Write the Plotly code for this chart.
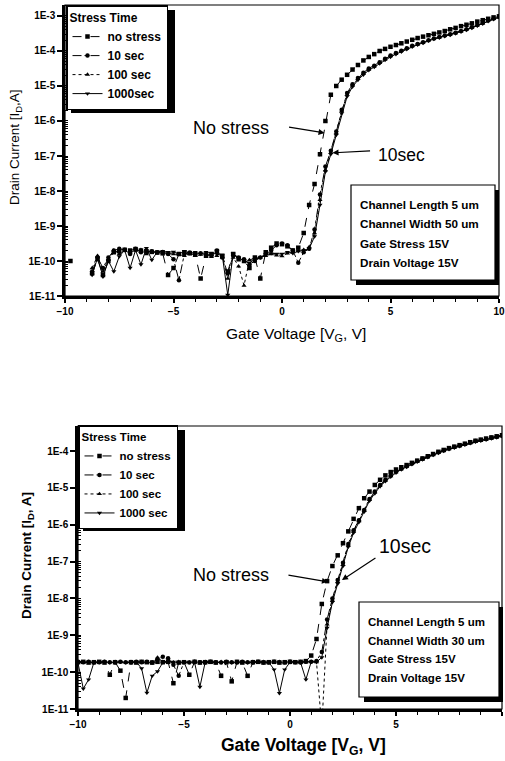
import plotly.graph_objects as go

W, H = 505, 761
FONT = "Liberation Sans, Arial, sans-serif"

# ---------------- data ----------------
gate_voltage = [
    -10.0, -9.75, -9.5, -9.25, -9.0, -8.75, -8.5, -8.25,
    -8.0, -7.75, -7.5, -7.25, -7.0, -6.75, -6.5, -6.25,
    -6.0, -5.75, -5.5, -5.25, -5.0, -4.75, -4.5, -4.25,
    -4.0, -3.75, -3.5, -3.25, -3.0, -2.75, -2.5, -2.25,
    -2.0, -1.75, -1.5, -1.25, -1.0, -0.75, -0.5, -0.25,
    0.0, 0.25, 0.5, 0.75, 1.0, 1.25, 1.5, 1.75,
    2.0, 2.25, 2.5, 2.75, 3.0, 3.25, 3.5, 3.75,
    4.0, 4.25, 4.5, 4.75, 5.0, 5.25, 5.5, 5.75,
    6.0, 6.25, 6.5, 6.75, 7.0, 7.25, 7.5, 7.75,
    8.0, 8.25, 8.5, 8.75, 9.0, 9.25, 9.5, 9.75,
    10.0,
]

# Top panel (Channel Width 50 um), log10 of drain current [A]
top_no_stress_log10 = [
    None, -10.0, None, None, None, -10.35, -9.95, -10.4,
    -10.0, -9.75, -9.72, -9.68, -9.7, -9.66, -9.7, -9.72,
    -9.74, -9.76, -9.78, -10.4, -10.2, -9.8, -9.75, -9.78,
    -9.82, -10.5, -9.85, -9.8, -9.72, -9.85, -10.3, -9.8,
    -9.95, -10.0, -10.2, -9.9, -10.5, -9.75, -9.62, -9.5,
    -9.52, -9.58, -9.7, -9.62, -9.2, -8.4, -7.8, -6.95,
    -6.0, -5.25, -5.0, -4.82, -4.68, -4.53, -4.4, -4.27,
    -4.17, -4.09, -4.0, -3.94, -3.88, -3.83, -3.78, -3.73,
    -3.68, -3.63, -3.59, -3.55, -3.51, -3.47, -3.43, -3.38,
    -3.34, -3.29, -3.25, -3.21, -3.16, -3.12, -3.08, -3.04,
    -3.01,
]
top_10sec_log10 = [
    None, None, None, None, None, -10.3, -9.9, -10.2,
    -9.9, -9.7, -9.65, -9.68, -9.8, -9.65, -9.75, -9.7,
    -9.72, -9.75, -9.74, -9.8, -9.95, -10.55, -9.8, -9.76,
    -9.8, -9.78, -9.82, -9.85, -9.7, -9.9, -10.35, -9.85,
    -9.9, -9.95, -10.1, -10.0, -9.9, -9.8, -9.7, -9.55,
    -9.5, -9.55, -9.7, -10.05, -9.75, -9.65, -9.1, -8.1,
    -7.3, -6.85, -6.3, -5.68, -5.2, -4.95, -4.77, -4.62,
    -4.5, -4.42, -4.32, -4.22, -4.13, -4.06, -3.99, -3.92,
    -3.85, -3.8, -3.75, -3.69, -3.64, -3.6, -3.56, -3.52,
    -3.48, -3.43, -3.38, -3.32, -3.26, -3.2, -3.13, -3.07,
    -3.02,
]
top_100sec_log10 = [
    None, None, None, None, None, -10.2, -9.85, -10.3,
    -9.95, -9.7, -9.8, -9.7, -9.75, -9.7, -9.68, -9.8,
    -9.73, -9.75, -9.76, -9.78, -9.8, -9.82, -9.85, -9.78,
    -9.85, -9.82, -9.8, -9.88, -9.85, -9.9, -10.5, -9.9,
    -10.15, -10.7, -9.97, -9.92, -9.9, -9.85, -9.8, -9.84,
    -9.86, -9.78, -9.75, -9.72, -9.68, -9.6, -9.2, -8.25,
    -7.4, -6.9, -6.35, -5.72, -5.25, -4.98, -4.8, -4.65,
    -4.53, -4.44, -4.34, -4.24, -4.15, -4.08, -4.0, -3.93,
    -3.86, -3.81, -3.76, -3.7, -3.65, -3.61, -3.57, -3.53,
    -3.49, -3.44, -3.39, -3.33, -3.27, -3.21, -3.14, -3.08,
    -3.03,
]
top_1000sec_log10 = [
    None, None, None, None, None, -10.4, -9.91, -10.45,
    -10.0, -10.3, -9.87, -9.69, -10.2, -9.69, -10.1, -9.63,
    -9.97, -9.74, -9.72, -9.75, -9.74, -9.8, -9.72, -9.78,
    -9.75, -9.8, -9.75, -9.78, -9.8, -9.85, -10.97, -9.8,
    -9.9, -10.0, -10.05, -9.95, -9.9, -9.82, -9.78, -9.8,
    -9.8, -9.75, -9.78, -9.72, -9.7, -9.65, -9.3, -8.4,
    -7.45, -6.95, -6.4, -5.78, -5.3, -5.02, -4.83, -4.68,
    -4.55, -4.46, -4.36, -4.26, -4.17, -4.09, -4.02, -3.95,
    -3.88, -3.82, -3.77, -3.71, -3.66, -3.62, -3.58, -3.54,
    -3.5, -3.45, -3.4, -3.34, -3.28, -3.22, -3.15, -3.09,
    -3.03,
]

# Bottom panel (Channel Width 30 um), log10 of drain current [A]
bot_no_stress_log10 = [
    -9.73, -9.72, -9.74, -9.73, -9.72, -9.74, -10.07, -9.73,
    -9.96, -10.7, -9.73, -9.74, -9.72, -9.73, -9.74, -9.72,
    -9.73, -9.72, -10.3, -9.74, -9.73, -10.07, -9.72, -9.74,
    -9.73, -9.72, -9.74, -10.1, -9.73, -10.25, -9.72, -9.74,
    -10.1, -9.73, -9.72, -9.74, -9.73, -9.72, -9.74, -9.73,
    -9.72, -9.73, -9.72, -9.7, -9.55, -9.1, -8.15, -7.53,
    -7.12, -6.83, -6.5, -6.18, -5.84, -5.55, -5.28, -5.1,
    -4.92, -4.78, -4.66, -4.57, -4.5, -4.44, -4.38, -4.32,
    -4.26, -4.2, -4.14, -4.08, -4.02, -3.97, -3.92, -3.88,
    -3.84, -3.8, -3.76, -3.72, -3.69, -3.66, -3.63, -3.6,
    -3.57,
]
bot_10sec_log10 = [
    -9.72, -9.73, -9.72, -9.74, -9.73, -9.72, -9.73, -9.74,
    -9.72, -9.73, -9.74, -9.72, -9.73, -9.72, -9.74, -9.65,
    -9.58, -9.62, -9.8, -10.1, -9.73, -9.74, -9.72, -9.73,
    -9.74, -9.72, -9.73, -9.74, -9.72, -9.73, -9.74, -9.72,
    -9.73, -9.74, -9.72, -9.73, -9.74, -9.72, -9.73, -9.74,
    -9.72, -9.73, -9.74, -9.72, -9.72, -9.7, -9.45, -8.57,
    -8.0, -7.5, -7.03, -6.52, -6.15, -5.88, -5.6, -5.3,
    -5.1, -4.92, -4.78, -4.66, -4.56, -4.48, -4.41, -4.34,
    -4.27, -4.21, -4.15, -4.09, -4.03, -3.98, -3.93, -3.89,
    -3.85, -3.81, -3.77, -3.73, -3.7, -3.67, -3.64, -3.61,
    -3.58,
]
bot_100sec_log10 = [
    -9.74, -9.73, -9.72, -9.73, -9.74, -9.72, -9.73, -9.72,
    -9.73, -9.74, -9.72, -9.73, -9.72, -9.74, -9.73, -9.6,
    -9.72, -9.7, -9.73, -9.72, -9.74, -9.73, -9.72, -9.73,
    -9.72, -9.74, -9.73, -9.72, -9.73, -9.74, -9.72, -9.73,
    -9.74, -9.72, -9.73, -9.72, -9.74, -9.73, -9.72, -9.73,
    -9.72, -9.73, -9.72, -9.73, -9.72, -9.73, -11.5, -8.7,
    -8.05, -7.55, -7.08, -6.56, -6.18, -5.9, -5.62, -5.32,
    -5.12, -4.94, -4.8, -4.68, -4.57, -4.49, -4.42, -4.35,
    -4.28, -4.22, -4.16, -4.1, -4.04, -3.99, -3.94, -3.9,
    -3.86, -3.82, -3.78, -3.74, -3.71, -3.68, -3.65, -3.62,
    -3.59,
]
bot_1000sec_log10 = [
    -9.75, -10.45, -10.2, -9.74, -9.73, -9.72, -9.74, -9.73,
    -9.72, -9.74, -9.73, -9.72, -9.9, -10.56, -10.1, -9.98,
    -9.74, -9.73, -9.72, -9.74, -9.73, -9.72, -9.74, -10.4,
    -9.73, -9.72, -9.74, -9.73, -9.72, -9.74, -9.73, -9.72,
    -9.74, -9.73, -9.72, -9.74, -9.73, -9.93, -10.57, -9.93,
    -9.73, -9.72, -9.74, -10.2, -9.72, -9.73, -9.6, -8.8,
    -8.1, -7.6, -7.12, -6.6, -6.22, -5.93, -5.65, -5.35,
    -5.15, -4.96, -4.82, -4.7, -4.59, -4.5, -4.43, -4.36,
    -4.29, -4.23, -4.17, -4.11, -4.05, -4.0, -3.95, -3.91,
    -3.87, -3.83, -3.79, -3.75, -3.72, -3.69, -3.66, -3.63,
    -3.6,
]

top_names = ["no stress", "10 sec", "100 sec", "1000sec"]
bot_names = ["no stress", "10 sec", "100 sec", "1000 sec"]
top_series = [top_no_stress_log10, top_10sec_log10, top_100sec_log10, top_1000sec_log10]
bot_series = [bot_no_stress_log10, bot_10sec_log10, bot_100sec_log10, bot_1000sec_log10]

top_yticks = [1e-11, 1e-10, 1e-9, 1e-8, 1e-7, 1e-6, 1e-5, 1e-4, 1e-3]
top_yticktext = ["1E-11", "1E-10", "1E-9", "1E-8", "1E-7", "1E-6", "1E-5", "1E-4", "1E-3"]
bot_yticks = [1e-11, 1e-10, 1e-9, 1e-8, 1e-7, 1e-6, 1e-5, 1e-4]
bot_yticktext = ["1E-11", "1E-10", "1E-9", "1E-8", "1E-7", "1E-6", "1E-5", "1E-4"]
x_ticks = [-10, -5, 0, 5, 10]

top_info = ["Channel Length 5 um", "Channel Width 50 um", "Gate Stress 15V", "Drain Voltage 15V"]
bot_info = ["Channel Length 5 um", "Channel Width 30 um", "Gate Stress 15V", "Drain Voltage 15V"]

symbols = ["square", "circle", "triangle-up", "triangle-down"]
dashes = ["dash", "dashdot", "dot", "solid"]


def to_amps(vals):
    return [None if v is None else 10 ** v for v in vals]


def px(x):
    return x / W


def py(y):
    return 1 - y / H


fig = go.Figure()
for name, vals, sym, dash in zip(top_names, top_series, symbols, dashes):
    fig.add_trace(go.Scatter(
        x=gate_voltage, y=to_amps(vals), name=name, mode="lines+markers",
        line=dict(color="black", width=1, dash=dash),
        marker=dict(symbol=sym, size=4.5, color="black"),
        xaxis="x", yaxis="y", legend="legend", connectgaps=False,
    ))
for name, vals, sym, dash in zip(bot_names, bot_series, symbols, dashes):
    fig.add_trace(go.Scatter(
        x=gate_voltage, y=to_amps(vals), name=name, mode="lines+markers",
        line=dict(color="black", width=1, dash=dash),
        marker=dict(symbol=sym, size=4.5, color="black"),
        xaxis="x2", yaxis="y2", legend="legend2", connectgaps=False,
    ))

tickfont = dict(family=FONT, size=10, color="black", weight="bold")
xaxis_common = dict(
    range=[-10, 10], tickmode="array", tickvals=x_ticks, automargin=False,
    ticks="outside", ticklen=4, tickwidth=1.5, tickcolor="black",
    showline=True, linewidth=2.5, linecolor="black", showgrid=False, zeroline=False,
    minor=dict(dtick=1, ticks="outside", ticklen=3, tickcolor="black", tickwidth=1),
    tickfont=tickfont,
)
yaxis_common = dict(
    type="log", tickmode="array", automargin=False,
    ticks="outside", ticklen=5, tickwidth=1.5, tickcolor="black",
    showline=True, linewidth=2.5, linecolor="black", showgrid=False, zeroline=False,
    minor=dict(dtick="D1", ticks="inside", ticklen=3, tickcolor="black", tickwidth=1),
    tickfont=tickfont,
)

legend_font_top = dict(family=FONT, size=12, color="black", weight="bold")
legend_font_bot = dict(family=FONT, size=11.5, color="black", weight="bold")
fig.update_layout(
    template="none",
    width=W, height=H, autosize=False,
    margin=dict(l=0, r=0, t=0, b=0, autoexpand=False),
    paper_bgcolor="white", plot_bgcolor="white",
    showlegend=True,
    xaxis=dict(domain=[px(65), px(499)], anchor="y", **xaxis_common),
    yaxis=dict(domain=[py(296), py(5)], anchor="x", range=[-11, -2.686],
               tickvals=top_yticks, ticktext=top_yticktext, **yaxis_common),
    xaxis2=dict(domain=[px(78), px(502)], anchor="y2", **xaxis_common),
    yaxis2=dict(domain=[py(709), py(426)], anchor="x2", range=[-11, -3.32],
                tickvals=bot_yticks, ticktext=bot_yticktext, **yaxis_common),
    legend=dict(
        x=px(66), y=py(5), xanchor="left", yanchor="top",
        bgcolor="white", bordercolor="black", borderwidth=1.5,
        font=legend_font_top, title=dict(text="Stress Time", font=legend_font_top),
        itemwidth=30, tracegroupgap=0,
    ),
    legend2=dict(
        x=px(78), y=py(425), xanchor="left", yanchor="top",
        bgcolor="white", bordercolor="black", borderwidth=1.5,
        font=legend_font_bot, title=dict(text="Stress Time", font=legend_font_bot),
        itemwidth=30, tracegroupgap=0,
    ),
)

shapes = []
# thin frames (top/right)
for xr, yr in (("x domain", "y domain"), ("x2 domain", "y2 domain")):
    shapes.append(dict(type="rect", xref=xr, yref=yr, x0=0, x1=1, y0=0, y1=1,
                       line=dict(color="black", width=1.2), layer="above"))
# legend shadows (drop shadow right/bottom of legend boxes)
shapes.append(dict(type="rect", xref="paper", yref="paper", x0=px(71), x1=px(175), y0=py(113), y1=py(10),
                   fillcolor="black", line=dict(width=0), layer="above"))
shapes.append(dict(type="rect", xref="paper", yref="paper", x0=px(83), x1=px(185), y0=py(531), y1=py(430),
                   fillcolor="black", line=dict(width=0), layer="above"))
# info boxes with shadows
for (x0, y0, x1, y1) in ((351, 185, 495, 280), (359, 602, 499, 697)):
    shapes.append(dict(type="rect", xref="paper", yref="paper", x0=px(x0 + 5), x1=px(x1 + 4),
                       y0=py(y1 + 5), y1=py(y0 + 5), fillcolor="black", line=dict(width=0), layer="above"))
    shapes.append(dict(type="rect", xref="paper", yref="paper", x0=px(x0), x1=px(x1),
                       y0=py(y1), y1=py(y0), fillcolor="white", line=dict(color="black", width=1.2),
                       layer="above"))
fig.update_layout(shapes=shapes)

ann = []
infofont = dict(family=FONT, size=11.7, color="black", weight="bold")
for i, t in enumerate(top_info):
    ann.append(dict(xref="paper", yref="paper", x=px(358), y=py(204 + 19.5 * i), text=t,
                    showarrow=False, xanchor="left", yanchor="middle", font=infofont))
infofont2 = dict(family=FONT, size=11.5, color="black", weight="bold")
for i, t in enumerate(bot_info):
    ann.append(dict(xref="paper", yref="paper", x=px(366), y=py(622 + 18.7 * i), text=t,
                    showarrow=False, xanchor="left", yanchor="middle", font=infofont2))

# axis titles
ann.append(dict(xref="paper", yref="paper", x=px(15), y=py(147), text="Drain Current [I<sub>D</sub>,A]",
                showarrow=False, textangle=-90, xanchor="center", yanchor="middle",
                font=dict(family=FONT, size=13.5, color="black")))
ann.append(dict(xref="paper", yref="paper", x=px(296), y=py(334), text="Gate Voltage [V<sub>G</sub>, V]",
                showarrow=False, xanchor="center", yanchor="middle",
                font=dict(family=FONT, size=15.5, color="black")))
ann.append(dict(xref="paper", yref="paper", x=px(27), y=py(556), text="Drain Current [I<sub>D</sub>, A]",
                showarrow=False, textangle=-90, xanchor="center", yanchor="middle",
                font=dict(family=FONT, size=13.5, color="black", weight="bold")))
ann.append(dict(xref="paper", yref="paper", x=px(303), y=py(746), text="Gate Voltage [V<sub>G</sub>, V]",
                showarrow=False, xanchor="center", yanchor="middle",
                font=dict(family=FONT, size=17.5, color="black", weight="bold")))

# callouts
ann.append(dict(xref="paper", yref="paper", x=px(191), y=py(128), text="No stress", showarrow=False,
                xanchor="left", yanchor="middle", font=dict(family=FONT, size=18, color="black")))
ann.append(dict(xref="paper", yref="paper", x=px(376), y=py(155), text="10sec", showarrow=False,
                xanchor="left", yanchor="middle", font=dict(family=FONT, size=17.5, color="black")))
ann.append(dict(xref="x", yref="y", x=1.96, y=-6.34, text="", showarrow=True, ax=-37, ay=-6,
                arrowhead=2, arrowsize=1, arrowwidth=1.2, arrowcolor="black"))
ann.append(dict(xref="x", yref="y", x=2.33, y=-6.91, text="", showarrow=True, ax=39, ay=-2,
                arrowhead=2, arrowsize=1, arrowwidth=1.2, arrowcolor="black"))
ann.append(dict(xref="paper", yref="paper", x=px(191), y=py(575), text="No stress", showarrow=False,
                xanchor="left", yanchor="middle", font=dict(family=FONT, size=18, color="black")))
ann.append(dict(xref="paper", yref="paper", x=px(377), y=py(546), text="10sec", showarrow=False,
                xanchor="left", yanchor="middle", font=dict(family=FONT, size=19.5, color="black")))
ann.append(dict(xref="x2", yref="y2", x=1.79, y=-7.55, text="", showarrow=True, ax=-41, ay=-7,
                arrowhead=2, arrowsize=1, arrowwidth=1.2, arrowcolor="black"))
ann.append(dict(xref="x2", yref="y2", x=2.45, y=-7.5, text="", showarrow=True, ax=35, ay=-23,
                arrowhead=2, arrowsize=1, arrowwidth=1.2, arrowcolor="black"))
fig.update_layout(annotations=ann)

fig.write_html(
    "out.html",
    config={"displayModeBar": False},
    post_script="document.body.style.margin='0px';document.body.style.overflow='hidden';",
)
